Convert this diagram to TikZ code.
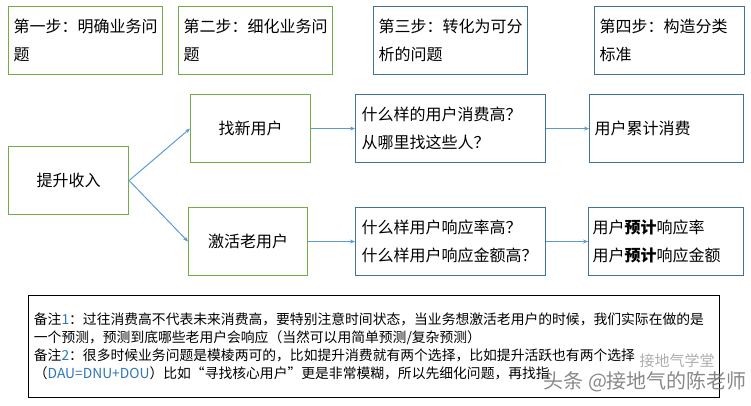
\documentclass[tikz,border=0pt]{standalone}
\usepackage{fontspec}
\setmainfont{Noto Sans CJK SC}
\usetikzlibrary{arrows.meta,positioning,calc}
\definecolor{stepgreen}{HTML}{70AD47}
\definecolor{stepblue}{HTML}{41719C}
\definecolor{linkblue}{HTML}{5B9BD5}
\definecolor{noteblue}{HTML}{2E75B6}

\begin{document}
\begin{tikzpicture}[x=1pt,y=-1pt,
    basebox/.style={rectangle,anchor=north west,line width=1.1pt,minimum height=68pt,
      inner sep=0pt,font=\fontsize{16}{28.5}\selectfont},
    greenbox/.style={basebox,draw=stepgreen},
    bluebox/.style={basebox,draw=stepblue},
    link/.style={-{Stealth[length=5pt,width=4pt]},linkblue,line width=1pt}]
      \useasboundingbox (0,0) rectangle (751,406);
      % Steps
      \node[greenbox,minimum width=154pt,text width=144pt,align=left] (step1) at (8,6) {第一步：明确业务问\\题};
      \node[greenbox,minimum width=154pt,text width=144pt,align=left] (step2) at (178,6) {第二步：细化业务问\\题};
      \node[bluebox,minimum width=154pt,text width=144pt,align=left] (step3) at (373,6) {第三步：转化为可分\\析的问题};
      \node[bluebox,minimum width=150pt,text width=140pt,align=left] (step4) at (594,6) {第四步：构造分类\\标准};
      % Goal and branches
      \node[greenbox,minimum width=120pt] (goal) at (8,146) {提升收入};
      \node[greenbox,minimum width=120pt] (newuser) at (190,94) {找新用户};
      \node[greenbox,minimum width=119pt] (olduser) at (188,207) {激活老用户};
      \node[bluebox,minimum width=190pt,text width=178pt,align=left] (newq) at (355,94) {什么样的用户消费高？\\从哪里找这些人？};
      \node[bluebox,minimum width=190pt,text width=178pt,align=left] (oldq) at (355,207) {什么样用户响应率高？\\什么样用户响应金额高？};
      \node[bluebox,minimum width=154pt,text width=144pt,align=left] (newrule) at (589,94) {用户累计消费};
      \node[bluebox,minimum width=155pt,text width=147pt,align=left] (oldrule) at (588,207) {用户\textbf{预计}响应率\\用户\textbf{预计}响应金额};
      % Arrows
      \draw[link] (goal.east) -- (newuser.west);
      \draw[link] (goal.east) -- (olduser.west);
      \draw[link] (newuser) -- (newq);
      \draw[link] (olduser) -- (oldq);
      \draw[link] (newq) -- (newrule);
      \draw[link] (oldq) -- (oldrule);
      % Notes
      \node[draw=black,line width=0.8pt,anchor=north west,minimum width=691pt,minimum height=102pt,
        inner sep=0pt,text width=680pt,align=left,font=\fontsize{13.8}{18.3}\selectfont] (notes) at (28,295)
        {备注{\color{noteblue}1}：过往消费高不代表未来消费高，要特别注意时间状态，当业务想激活老用户的时候，我们实际在做的是\\
         一个预测，预测到底哪些老用户会响应（当然可以用简单预测/复杂预测）\\
         备注{\color{noteblue}2}：很多时候业务问题是模棱两可的，比如提升消费就有两个选择，比如提升活跃也有两个选择\\
         （{\color{noteblue}DAU=DNU+DOU}）比如“寻找核心用户”更是非常模糊，所以先细化问题，再找指};
      % Watermark
      \node[text=black!40,opacity=0.8,anchor=west,font=\fontsize{15}{15}\selectfont] (mark1) at (636,361) {接地气学堂};
      \node[text=black!55,opacity=0.85,anchor=west,font=\fontsize{20}{20}\selectfont] (mark2) at (540,382) {头条 @接地气的陈老师};
    \end{tikzpicture}
\end{document}
